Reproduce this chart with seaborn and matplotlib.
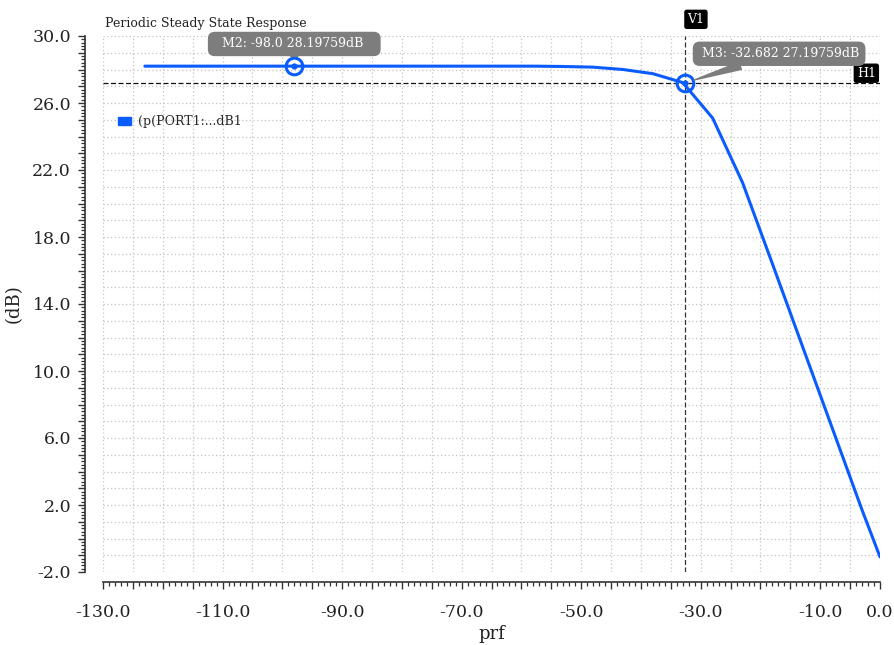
import matplotlib
matplotlib.use("Agg")
import matplotlib.pyplot as plt
import matplotlib.ticker as mticker
from matplotlib.patches import Patch
import numpy as np
import pandas as pd
import seaborn as sns

# ---- data ----
prf = [-123, -118, -113, -108, -103, -98, -93, -88, -83, -78, -73, -68, -63, -58,
       -53, -48, -43, -38, -33, -28, -23, -18, -13, -8, -3, 0]
gain_db = [28.2, 28.2, 28.2, 28.2, 28.2, 28.2, 28.2, 28.2, 28.2, 28.2, 28.2, 28.2, 28.2, 28.2,
           28.18, 28.14, 28.0, 27.75, 27.22, 25.1, 21.25, 16.4, 11.5, 6.6, 1.7, -1.1]
series_name = "(p(PORT1:...dB1"
title = "Periodic Steady State Response"

marker_names = ["M2", "M3"]
marker_x = [-98.0, -32.682]
marker_y = [28.19759, 27.19759]
marker_text = ["  M2: -98.0 28.19759dB   ", " M3: -32.682 27.19759dB"]
marker_offsets = [(0, 16), (68, 21)]

h1_y = 27.19759
v1_x = -32.682

x_tick_vals = [-130, -110, -90, -70, -50, -30, -10, 0]
x_tick_labels = ["-130.0", "-110.0", "-90.0", "-70.0", "-50.0", "-30.0", "-10.0", "0.0"]
y_tick_vals = [-2, 2, 6, 10, 14, 18, 22, 26, 30]
y_tick_labels = ["-2.0", "2.0", "6.0", "10.0", "14.0", "18.0", "22.0", "26.0", "30.0"]

df = pd.DataFrame({"prf": prf, "dB": gain_db})

# ---- style ----
sns.set_style("ticks")
plt.rcParams["font.family"] = ["DejaVu Serif", "DejaVu Sans"]
plt.rcParams["axes.unicode_minus"] = False

BLUE = "#0a5cff"

fig = plt.figure(figsize=(8.95, 6.45), dpi=100)
ax = fig.add_axes([103 / 895, 1 - 572 / 645, 777 / 895, (572 - 36) / 645])

sns.lineplot(data=df, x="prf", y="dB", ax=ax, color=BLUE, linewidth=2.2, legend=False,
             zorder=3)

ax.set_xlim(-130, 0)
ax.set_ylim(-2, 30)

# ticks: majors every 5 (x) / 1 (y), minors every 1 (x) / 0.2 (y)
xmaj = list(np.arange(-130, 1, 5))
ax.xaxis.set_major_locator(mticker.FixedLocator(xmaj))
ax.xaxis.set_minor_locator(mticker.MultipleLocator(1))
xlabs = [x_tick_labels[x_tick_vals.index(v)] if v in x_tick_vals else "" for v in xmaj]
ax.xaxis.set_major_formatter(mticker.FixedFormatter(xlabs))

ymaj = list(np.arange(-2, 31, 1))
ax.yaxis.set_major_locator(mticker.FixedLocator(ymaj))
ax.yaxis.set_minor_locator(mticker.MultipleLocator(0.2))
ylabs = [y_tick_labels[y_tick_vals.index(v)] if v in y_tick_vals else "" for v in ymaj]
ax.yaxis.set_major_formatter(mticker.FixedFormatter(ylabs))

ax.tick_params(axis="both", which="major", direction="out", length=5, width=1,
               color="#333333", labelsize=12.5, labelcolor="#222222",
               bottom=True, left=True, top=False, right=False)
ax.tick_params(axis="both", which="minor", direction="out", length=3, width=0.9,
               color="#333333", bottom=True, left=True, top=False, right=False)
ax.tick_params(axis="x", which="major", pad=11)
ax.tick_params(axis="y", which="major", pad=5)

for v, t in zip(xmaj, ax.xaxis.get_major_ticks()):
    t.tick1line.set_markersize(9.5 if v % 10 == 0 else 5)
for v, t in zip(ymaj, ax.yaxis.get_major_ticks()):
    t.tick1line.set_markersize(9 if v in y_tick_vals else 5)

for s in ["top", "right"]:
    ax.spines[s].set_visible(False)
ax.spines["left"].set_position(("outward", 13))
ax.spines["bottom"].set_position(("outward", 7))
for s in ["left", "bottom"]:
    ax.spines[s].set_color("#333333")
    ax.spines[s].set_linewidth(1.2)

ax.grid(True, which="major", color="#c4c4c4", linestyle=(0, (1, 2)), linewidth=0.9)
ax.set_axisbelow(True)

ax.set_xlabel("prf", fontsize=13, color="#222222", labelpad=3)
ax.set_ylabel("(dB)", fontsize=13, color="#222222", labelpad=7)

ax.text(0.002, 1.012, title, transform=ax.transAxes, fontsize=9, color="#222222",
        ha="left", va="bottom")

# cursor lines
ax.axhline(h1_y, color="#111111", linestyle=(0, (4, 2)), linewidth=0.9, zorder=2)
ax.axvline(v1_x, color="#333333", linestyle=(0, (4, 2)), linewidth=0.9, zorder=2)
ax.annotate("H1", xy=(0, h1_y), xytext=(-3, 7),
            textcoords="offset points", ha="right", va="center", fontsize=9,
            color="white", bbox=dict(boxstyle="round,pad=0.2,rounding_size=0.15",
                                     fc="black", ec="black"), annotation_clip=False)
ax.annotate("V1", xy=(v1_x, 30), xytext=(2, 12), textcoords="offset points",
            ha="left", va="center", fontsize=9, color="white",
            bbox=dict(boxstyle="round,pad=0.2,rounding_size=0.15", fc="black", ec="black"),
            annotation_clip=False)

# markers
ax.plot(marker_x, marker_y, linestyle="none", marker="o", markersize=12,
        markerfacecolor="none", markeredgecolor=BLUE, markeredgewidth=2.2, zorder=5)
ax.plot(marker_x, marker_y, linestyle="none", marker="o", markersize=3.5,
        markerfacecolor=BLUE, markeredgecolor=BLUE, zorder=5)
for xv, yv, txt, off in zip(marker_x, marker_y, marker_text, marker_offsets):
    ax.annotate(txt, xy=(xv, yv), xytext=off, textcoords="offset points",
                ha="center", va="center", fontsize=9, color="white",
                bbox=dict(boxstyle="round,pad=0.4,rounding_size=0.5", fc="#7d7d7d",
                          ec="#7d7d7d"),
                arrowprops=dict(arrowstyle="wedge,tail_width=0.6,shrink_factor=0.5",
                                fc="#7d7d7d", ec="#7d7d7d", shrinkA=0, shrinkB=7),
                annotation_clip=False, zorder=6)

# legend
leg = ax.legend(handles=[Patch(facecolor=BLUE, edgecolor=BLUE, label=series_name)],
                loc="center left", bbox_to_anchor=(0.005, 0.84), frameon=False,
                fontsize=9, handlelength=1.0, handleheight=0.7, handletextpad=0.6)

fig.savefig("out.png", dpi=100)
